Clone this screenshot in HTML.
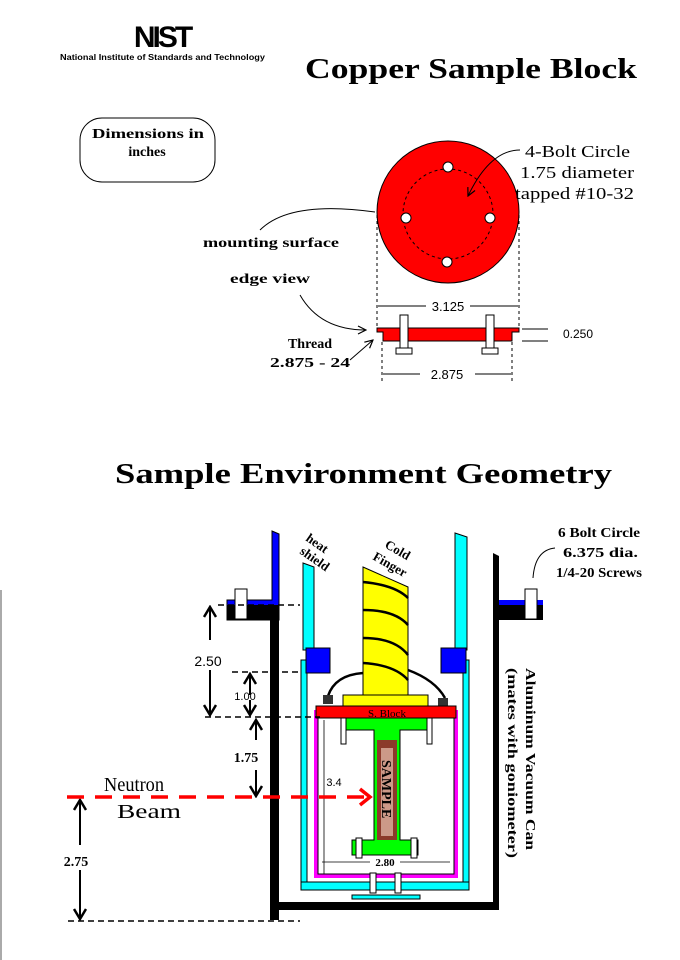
<!DOCTYPE html>
<html><head><meta charset="utf-8"><style>
html,body{margin:0;padding:0;background:#fff}
svg{display:block}
.s{font-family:"Liberation Serif",serif}
.b{font-family:"Liberation Serif",serif;font-weight:bold}
.a{font-family:"Liberation Sans",sans-serif}
</style></head><body>
<svg width="680" height="960" viewBox="0 0 680 960" xmlns="http://www.w3.org/2000/svg">
<defs>
<marker id="ar" markerWidth="10" markerHeight="10" refX="9" refY="5" orient="auto" markerUnits="userSpaceOnUse"><path d="M1,1 L9,5 L1,9" fill="none" stroke="#000" stroke-width="1.2"/></marker>
<marker id="ab" markerWidth="14" markerHeight="14" refX="12" refY="7" orient="auto" markerUnits="userSpaceOnUse"><path d="M2,1 L12,7 L2,13" fill="none" stroke="#000" stroke-width="2.5"/></marker>
</defs>
<text x="162" y="47" text-anchor="middle" class="a" font-size="30" font-weight="bold" letter-spacing="-3">NIST</text>
<text x="60" y="60" class="a" font-size="8.5" font-weight="bold" textLength="205" lengthAdjust="spacingAndGlyphs">National Institute of Standards and Technology</text>
<text x="305" y="78" class="b" font-size="28" textLength="332" lengthAdjust="spacingAndGlyphs">Copper Sample Block</text>
<rect x="80" y="118" width="135" height="64" rx="22" fill="none" stroke="#000"/>
<text x="92" y="138" class="b" font-size="14" textLength="112" lengthAdjust="spacingAndGlyphs">Dimensions in</text>
<text x="147" y="156" text-anchor="middle" class="b" font-size="14">inches</text>
<circle cx="448" cy="212" r="71" fill="#f00" stroke="#000"/>
<circle cx="448" cy="214" r="45" fill="none" stroke="#000" stroke-dasharray="3,3"/>
<g fill="#fff" stroke="#000"><circle cx="448" cy="167" r="5"/><circle cx="406" cy="218" r="5"/><circle cx="490" cy="218" r="5"/><circle cx="447" cy="262" r="5"/></g>
<text x="525" y="157" class="s" font-size="17" textLength="105" lengthAdjust="spacingAndGlyphs">4-Bolt Circle</text>
<text x="520" y="178" class="s" font-size="17" textLength="114" lengthAdjust="spacingAndGlyphs">1.75 diameter</text>
<text x="515" y="199" class="s" font-size="17" textLength="119" lengthAdjust="spacingAndGlyphs">tapped #10-32</text>
<path d="M520,150 Q490,150 468,196" fill="none" stroke="#000" marker-end="url(#ar)"/>
<text x="203" y="247" class="b" font-size="14" textLength="136" lengthAdjust="spacingAndGlyphs">mounting surface</text>
<path d="M260,230 Q290,200 375,212" fill="none" stroke="#000"/>
<text x="230" y="283" class="b" font-size="14" textLength="80" lengthAdjust="spacingAndGlyphs">edge view</text>
<path d="M300,295 Q320,330 366,330" fill="none" stroke="#000" marker-end="url(#ar)"/>
<g stroke="#000" stroke-dasharray="3,3"><line x1="377" y1="215" x2="377" y2="328"/><line x1="519" y1="215" x2="519" y2="328"/><line x1="382" y1="342" x2="382" y2="382"/><line x1="512" y1="342" x2="512" y2="382"/></g>
<line x1="378" y1="306" x2="426" y2="306" stroke="#000"/><line x1="470" y1="306" x2="518" y2="306" stroke="#000"/>
<text x="448" y="311" text-anchor="middle" class="a" font-size="13">3.125</text>
<line x1="383" y1="374" x2="420" y2="374" stroke="#000"/><line x1="475" y1="374" x2="511" y2="374" stroke="#000"/>
<text x="447" y="379" text-anchor="middle" class="a" font-size="13">2.875</text>
<path d="M377,328 H519 V332 H512 V341 H383 V332 H377Z" fill="#f00" stroke="#000"/>
<g fill="#fff" stroke="#000"><rect x="400" y="315" width="8" height="34"/><rect x="396" y="348" width="16" height="6"/><rect x="486" y="315" width="8" height="34"/><rect x="482" y="348" width="16" height="6"/></g>
<line x1="522" y1="329" x2="548" y2="329" stroke="#000"/><line x1="522" y1="341" x2="548" y2="341" stroke="#000"/>
<text x="563" y="338" class="a" font-size="12">0.250</text>
<text x="310" y="348" text-anchor="middle" class="b" font-size="14">Thread</text>
<text x="270" y="367" class="b" font-size="14" textLength="80" lengthAdjust="spacingAndGlyphs">2.875 - 24</text>
<path d="M350,360 L373,340" stroke="#000" marker-end="url(#ar)"/>
<text x="115" y="483" class="b" font-size="29" textLength="497" lengthAdjust="spacingAndGlyphs">Sample Environment Geometry</text>
<line x1="1" y1="590" x2="1" y2="960" stroke="#555"/>
<path d="M272,531 L279,534 V620 H227 V600 H272Z" fill="#00f" stroke="#000"/>
<path d="M227,605 H279 V920 H270 V620 H227Z" fill="#000"/>
<rect x="279" y="902" width="220" height="8" fill="#000"/>
<path d="M493,553 L499,556 V600 H543 V620 H499 V910 H493Z" fill="#000"/>
<rect x="499" y="600" width="44" height="5" fill="#00f"/>
<g fill="#fff" stroke="#000"><rect x="235" y="589" width="12" height="30"/><rect x="525" y="589" width="12" height="30"/></g>
<g fill="#0ff" stroke="#000"><path d="M303,563 L314,567 V650 H303Z"/><path d="M455,533 L467,537 V650 H455Z"/><rect x="301" y="660" width="6" height="226"/><rect x="463" y="660" width="6" height="226"/><rect x="301" y="882" width="168" height="8"/><rect x="352" y="895" width="68" height="4"/></g>
<g fill="#00f" stroke="#000"><rect x="306" y="648" width="24" height="25"/><rect x="441" y="648" width="25" height="25"/></g>
<path d="M316,710 V876 H456 V710" fill="none" stroke="#f0f" stroke-width="4"/>
<rect x="318" y="712" width="136" height="162" fill="none" stroke="#000" stroke-width="1"/>
<path d="M363,567 L408,587 V695 H363Z" fill="#ff0" stroke="#000"/>
<g fill="none" stroke="#000" stroke-width="2.5"><path d="M363,582 Q395,585 408,598"/><path d="M363,610 Q395,610 408,625"/><path d="M363,638 Q395,638 408,655"/><path d="M363,663 Q395,665 408,680"/><path d="M363,673 Q335,675 328,696"/><path d="M408,670 Q435,680 445,698"/></g>
<rect x="343" y="695" width="85" height="11" fill="#ff0" stroke="#000"/>
<g fill="#333"><rect x="323" y="695" width="10" height="9"/><rect x="438" y="698" width="10" height="8"/></g>
<rect x="316" y="706" width="140" height="12" fill="#f00" stroke="#000"/>
<text x="387" y="717" text-anchor="middle" class="s" font-size="11">S. Block</text>
<path d="M345,718 H430 V730 H400 V840 H418 V855 H352 V840 H374 V730 H345Z" fill="#0f0" stroke="#000"/>
<rect x="377" y="740" width="20" height="100" fill="#8b3a2a"/>
<rect x="381" y="748" width="12" height="88" fill="#c98"/>
<text transform="translate(382,760) rotate(90)" class="b" font-size="14">SAMPLE</text>
<g fill="#fff" stroke="#000"><rect x="341" y="718" width="5" height="26"/><rect x="427" y="718" width="5" height="26"/><rect x="356" y="838" width="6" height="20"/><rect x="411" y="838" width="6" height="20"/><rect x="370" y="873" width="6" height="20"/><rect x="395" y="873" width="6" height="20"/></g>
<line x1="324" y1="720" x2="324" y2="874" stroke="#000" stroke-width="0.8"/>
<text x="334" y="786" text-anchor="middle" class="a" font-size="11">3.4</text>
<line x1="322" y1="862" x2="450" y2="862" stroke="#000" stroke-width="0.8"/>
<rect x="370" y="856" width="30" height="12" fill="#fff"/>
<text x="385" y="866" text-anchor="middle" class="b" font-size="11">2.80</text>
<g stroke="#000" stroke-dasharray="6,4" stroke-width="1.5"><line x1="218" y1="605" x2="300" y2="605"/><line x1="232" y1="672" x2="300" y2="672"/><line x1="205" y1="717" x2="320" y2="717"/><line x1="68" y1="921" x2="300" y2="921"/></g>
<g stroke="#000" stroke-width="2"><line x1="210" y1="670" x2="210" y2="715" marker-end="url(#ab)"/><line x1="210" y1="640" x2="210" y2="607" marker-end="url(#ab)"/>
<line x1="250" y1="695" x2="250" y2="674" marker-end="url(#ab)"/><line x1="250" y1="700" x2="250" y2="715" marker-end="url(#ab)"/>
<line x1="256" y1="740" x2="256" y2="720" marker-end="url(#ab)"/><line x1="256" y1="770" x2="256" y2="796" marker-end="url(#ab)"/>
<line x1="80" y1="845" x2="80" y2="800" marker-end="url(#ab)"/><line x1="80" y1="870" x2="80" y2="919" marker-end="url(#ab)"/></g>
<text x="208" y="666" text-anchor="middle" class="a" font-size="14">2.50</text>
<text x="245" y="700" text-anchor="middle" class="a" font-size="11">1.00</text>
<text x="246" y="762" text-anchor="middle" class="b" font-size="14">1.75</text>
<text x="76" y="866" text-anchor="middle" class="b" font-size="14">2.75</text>
<line x1="67" y1="797" x2="368" y2="797" stroke="#f00" stroke-width="3.5" stroke-dasharray="17,11"/>
<path d="M360,789 L370,797 L360,805" fill="none" stroke="#f00" stroke-width="3.5"/>
<text x="104" y="791" class="s" font-size="20" textLength="60" lengthAdjust="spacingAndGlyphs">Neutron</text>
<text x="117" y="818" class="s" font-size="20" textLength="64" lengthAdjust="spacingAndGlyphs">Beam</text>
<text transform="translate(305,540) rotate(35)" class="b" font-size="13">heat</text>
<text transform="translate(299,553) rotate(35)" class="b" font-size="13">shield</text>
<text transform="translate(384,547) rotate(30)" class="b" font-size="13">Cold</text>
<text transform="translate(372,559) rotate(30)" class="b" font-size="13">Finger</text>
<text x="558" y="537" class="b" font-size="14" textLength="82" lengthAdjust="spacingAndGlyphs">6 Bolt Circle</text>
<text x="563" y="557" class="b" font-size="14" textLength="75" lengthAdjust="spacingAndGlyphs">6.375 dia.</text>
<text x="556" y="577" class="b" font-size="14" textLength="86" lengthAdjust="spacingAndGlyphs">1/4-20 Screws</text>
<path d="M555,548 Q535,550 533,578" fill="none" stroke="#000"/>
<text transform="translate(526,668) rotate(90)" class="b" font-size="14" textLength="182" lengthAdjust="spacingAndGlyphs">Aluminum Vacuum Can</text>
<text transform="translate(508,668) rotate(90)" class="b" font-size="14" textLength="190" lengthAdjust="spacingAndGlyphs">(mates with goniometer)</text>
</svg>
</body></html>
